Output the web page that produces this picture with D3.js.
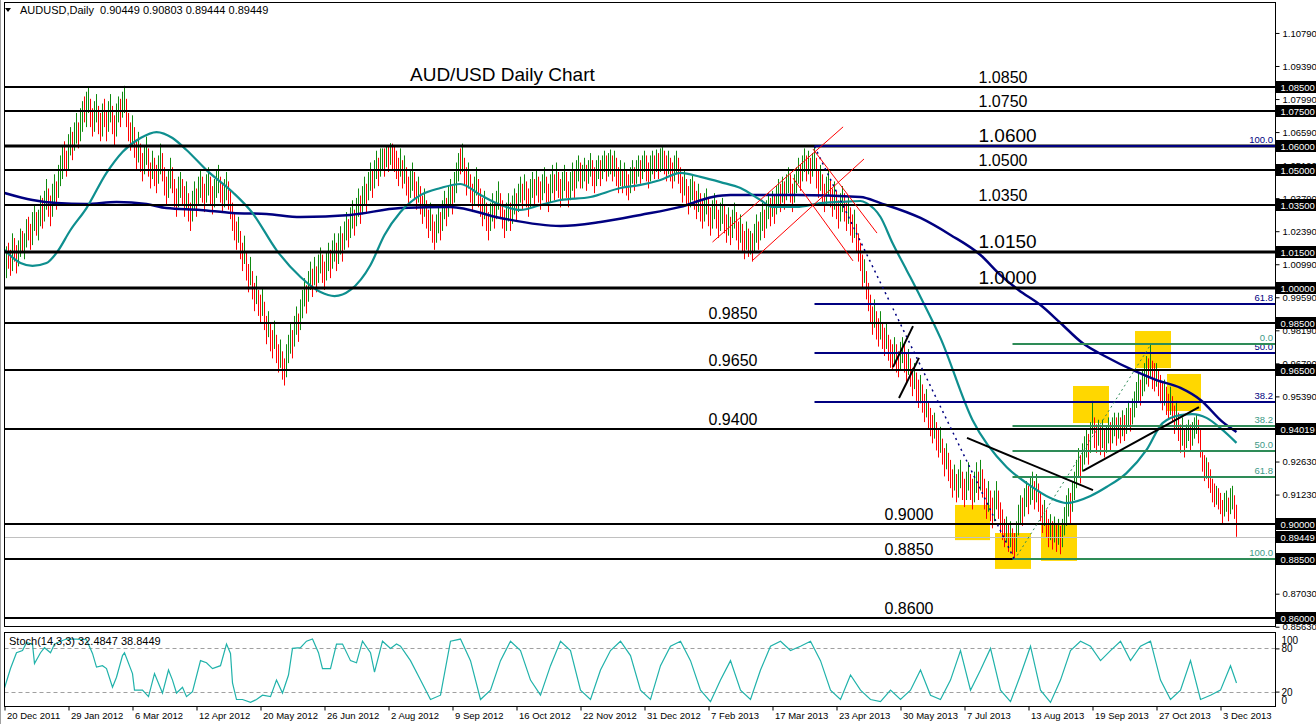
<!DOCTYPE html>
<html><head><meta charset="utf-8">
<script src="https://cdn.jsdelivr.net/npm/d3@7"></script>
<style>body{margin:0;background:#fff;overflow:hidden}svg{display:block}</style>
</head><body><svg id="c" width="1316" height="724"></svg>
<script>
// ---------------- DATA ----------------
const symbolTitle = "AUDUSD,Daily";
const headerOHLC = [0.90449, 0.90803, 0.89444, 0.89449];
const chartTitle = "AUD/USD Daily Chart";
const stochTitle = "Stoch(14,3,3)";
const stochHeader = [32.4847, 38.8449];

const dateLabels = ["20 Dec 2011","29 Jan 2012","6 Mar 2012","12 Apr 2012","20 May 2012","26 Jun 2012","2 Aug 2012","9 Sep 2012","16 Oct 2012","22 Nov 2012","31 Dec 2012","7 Feb 2013","17 Mar 2013","23 Apr 2013","30 May 2013","7 Jul 2013","13 Aug 2013","19 Sep 2013","27 Oct 2013","3 Dec 2013"];
const dateLabelBars = [0,32,64,96,128,160,192,224,256,288,320,352,384,416,448,480,512,544,576,608];

// visible grid prices on the right axis (the ones under level boxes are hidden in the reference)
const priceTicks = [1.10790,1.09390,1.07990,1.06590,1.05190,1.03790,1.02390,1.00990,0.99590,0.98190,0.96790,0.95390,0.92630,0.91230,0.87030,0.85630];
const stochTicks = [100, 80, 20, 0];

// daily bar lows / highs in 1/10000 of a dollar, and direction (g = up, r = down)
const barLow = [
9905,10040,10080,10050,10070,10110,10060,10090,10130,10150,
10120,10170,10200,10160,10180,10240,10220,10200,10260,10250,
10280,10330,10300,10260,10300,10360,10330,10380,10430,10460,
10500,10470,10500,10560,10540,10580,10610,10590,10620,10660,
10700,10680,10740,10680,10640,10660,10700,10650,10620,10640,
10680,10620,10660,10700,10650,10600,10640,10700,10680,10720,
10740,10680,10620,10580,10600,10550,10500,10530,10490,10450,
10480,10520,10470,10420,10460,10430,10400,10440,10480,10450,
10390,10350,10380,10420,10400,10340,10300,10340,10380,10350,
10300,10330,10280,10240,10280,10330,10300,10350,10380,10360,
10320,10360,10390,10350,10310,10340,10380,10400,10360,10320,
10340,10370,10330,10290,10240,10200,10160,10190,10120,10070,
10100,10030,9980,10010,9950,9900,9930,9880,9850,9880,
9820,9760,9790,9730,9700,9740,9680,9640,9660,9610,
9585,9620,9680,9720,9700,9750,9800,9770,9820,9870,
9920,9890,9940,9990,9960,10010,9980,10020,10060,10020,
9990,10030,10070,10040,10080,10110,10070,10100,10140,10110,
10160,10200,10170,10210,10250,10220,10260,10300,10270,10310,
10350,10320,10370,10410,10380,10420,10460,10430,10470,10500,
10470,10510,10490,10520,10500,10490,10460,10430,10470,10420,
10440,10390,10350,10380,10410,10370,10330,10360,10310,10270,
10300,10250,10210,10240,10190,10160,10190,10230,10200,10240,
10290,10260,10300,10340,10310,10360,10400,10450,10480,10490,
10430,10390,10420,10360,10320,10350,10390,10340,10300,10260,
10290,10240,10200,10240,10280,10250,10290,10330,10290,10250,
10210,10240,10280,10240,10270,10310,10280,10320,10360,10330,
10370,10340,10300,10340,10380,10350,10390,10360,10330,10370,
10400,10360,10320,10360,10400,10370,10410,10380,10340,10370,
10410,10380,10340,10370,10410,10380,10420,10450,10420,10420,
10450,10410,10440,10470,10430,10400,10430,10460,10430,10460,
10490,10450,10470,10480,10450,10470,10430,10400,10430,10400,
10430,10390,10370,10400,10440,10410,10440,10470,10440,10460,
10490,10450,10420,10450,10480,10460,10490,10460,10490,10500,
10480,10450,10480,10450,10420,10450,10480,10440,10400,10360,
10390,10350,10310,10340,10370,10330,10290,10320,10280,10250,
10280,10310,10260,10220,10250,10290,10250,10210,10240,10270,
10230,10190,10220,10180,10210,10250,10200,10160,10190,10150,
10120,10160,10130,10140,10110,10150,10190,10160,10200,10240,
10210,10250,10290,10260,10300,10270,10310,10350,10320,10360,
10330,10370,10400,10360,10320,10360,10400,10440,10410,10450,
10490,10450,10480,10440,10470,10500,10420,10380,10410,10360,
10320,10350,10390,10340,10300,10330,10290,10250,10280,10320,
10280,10240,10270,10220,10190,10210,10150,10110,10070,10000,
10020,9950,9900,9850,9800,9830,9780,9750,9780,9740,
9710,9740,9690,9660,9650,9680,9640,9620,9650,9680,
9640,9600,9630,9580,9540,9570,9520,9490,9510,9470,
9430,9450,9400,9370,9340,9360,9310,9280,9300,9250,
9200,9230,9180,9150,9110,9140,9090,9110,9150,9100,
9070,9100,9140,9100,9060,9090,9130,9100,9140,9110,
9060,9020,9050,9010,8980,9010,9060,9020,8960,8930,
8900,8920,8880,8900,8870,8847,8880,8950,9000,8990,
9030,9070,9040,9080,9100,9060,9090,9050,9010,8960,
8990,8940,8900,8930,8890,8920,8880,8910,8870,8900,
8950,8990,9030,9000,9050,9100,9150,9200,9170,9220,
9250,9280,9250,9300,9380,9320,9300,9330,9290,9320,
9280,9300,9340,9310,9340,9370,9330,9360,9340,9370,
9350,9380,9410,9390,9420,9450,9490,9520,9500,9540,
9560,9590,9580,9620,9570,9560,9580,9540,9510,9480,
9500,9460,9440,9460,9430,9380,9400,9350,9300,9330,
9280,9320,9350,9310,9330,9360,9380,9340,9280,9220,
9180,9190,9150,9130,9090,9070,9080,9060,9040,9000,
9030,9050,9010,9040,9060,9020,8944];
const barHigh = [
10087,10175,10190,10160,10230,10210,10180,10200,10250,10240,
10230,10290,10300,10270,10320,10350,10320,10330,10390,10380,
10410,10460,10420,10390,10440,10480,10450,10520,10560,10600,
10620,10580,10650,10680,10660,10700,10740,10700,10760,10790,
10810,10830,10850,10800,10760,10790,10820,10770,10740,10780,
10800,10750,10790,10820,10770,10730,10780,10810,10800,10830,
10855,10800,10740,10700,10730,10680,10620,10660,10610,10570,
10600,10640,10590,10530,10580,10550,10520,10560,10610,10570,
10510,10470,10500,10550,10510,10460,10420,10470,10490,10460,
10430,10450,10400,10360,10410,10450,10420,10470,10500,10470,
10440,10480,10510,10470,10430,10460,10500,10520,10470,10440,
10460,10490,10450,10410,10360,10320,10280,10300,10240,10190,
10220,10150,10100,10130,10070,10020,10050,9990,9970,10000,
9940,9880,9900,9850,9820,9860,9800,9760,9780,9730,
9700,9760,9800,9850,9820,9880,9920,9890,9950,9990,
10040,10010,10070,10110,10080,10130,10090,10140,10170,10140,
10110,10150,10190,10160,10200,10230,10190,10230,10260,10230,
10280,10320,10290,10340,10370,10330,10380,10420,10390,10430,
10470,10440,10490,10530,10500,10540,10580,10550,10590,10590,
10590,10600,10600,10612,10610,10600,10580,10550,10590,10540,
10560,10510,10470,10500,10530,10490,10450,10470,10430,10390,
10420,10370,10330,10360,10310,10280,10310,10350,10320,10370,
10410,10380,10430,10460,10430,10490,10530,10570,10590,10610,
10550,10510,10530,10480,10440,10470,10510,10460,10420,10380,
10410,10360,10320,10360,10400,10360,10410,10450,10400,10370,
10330,10360,10400,10360,10390,10420,10400,10440,10470,10440,
10480,10450,10420,10460,10490,10460,10500,10470,10450,10480,
10510,10470,10440,10480,10520,10480,10530,10490,10460,10490,
10520,10490,10450,10490,10530,10500,10540,10560,10530,10520,
10550,10520,10540,10570,10540,10510,10540,10560,10540,10560,
10580,10560,10570,10585,10560,10580,10550,10510,10540,10500,
10530,10500,10480,10510,10540,10510,10540,10560,10540,10560,
10580,10560,10530,10560,10580,10560,10585,10570,10590,10595,
10580,10560,10580,10550,10530,10560,10580,10550,10510,10470,
10500,10460,10430,10460,10480,10450,10410,10440,10400,10370,
10400,10420,10380,10340,10370,10400,10370,10330,10360,10380,
10350,10310,10340,10300,10330,10360,10320,10280,10310,10270,
10240,10280,10250,10240,10230,10270,10310,10280,10320,10360,
10330,10370,10400,10380,10410,10390,10430,10460,10440,10470,
10450,10480,10510,10480,10440,10480,10510,10550,10520,10560,
10590,10560,10580,10550,10570,10598,10550,10500,10520,10480,
10440,10470,10500,10460,10420,10450,10410,10370,10400,10430,
10400,10360,10390,10340,10310,10330,10270,10230,10190,10140,
10120,10070,10020,9970,9920,9950,9900,9870,9900,9850,
9830,9850,9800,9780,9760,9790,9760,9730,9770,9790,
9760,9720,9740,9700,9660,9680,9640,9610,9630,9590,
9550,9570,9520,9490,9460,9470,9430,9400,9410,9360,
9320,9340,9300,9270,9230,9250,9210,9230,9270,9220,
9190,9220,9260,9210,9190,9220,9260,9220,9270,9230,
9190,9150,9180,9140,9110,9140,9180,9140,9090,9060,
9020,9030,9000,9010,8980,8960,9010,9080,9120,9110,
9150,9180,9160,9200,9220,9180,9210,9170,9130,9080,
9100,9060,9020,9040,9010,9030,9000,9020,8990,9020,
9070,9120,9150,9130,9180,9220,9270,9320,9290,9340,
9370,9400,9380,9430,9520,9450,9420,9440,9410,9440,
9400,9410,9450,9430,9450,9470,9450,9470,9450,9480,
9460,9490,9520,9490,9530,9560,9600,9640,9610,9650,
9680,9710,9700,9757,9690,9680,9680,9650,9630,9600,
9610,9580,9550,9580,9540,9500,9520,9470,9420,9450,
9400,9420,9440,9420,9430,9450,9460,9440,9400,9310,
9290,9280,9260,9230,9190,9170,9160,9150,9130,9100,
9130,9140,9110,9150,9160,9120,9080];
const barDir =
"ggrrgrrggr"+"ggrrggrggr"+"ggrrggrggg"+"rrggrggrgg"+"rggrrggrrg"+"rrggrrggrg"+"grrrgrrgrr"+"ggrrgrrggr"+
"rrggrrrggr"+"rgrrggrggr"+"rggrrgggrr"+"ggrrrrrgrr"+"grrgrrgrrg"+"rrgrrgrrgr"+"rgggrggrgg"+"grggrgrggr"+
"rggrggrggr"+"ggrggrggrg"+"grggrggrgg"+"rgrgrrrrgr"+"grrggrrgrr"+"grrgrrggrg"+"grggrgggrg"+"rrgrrggrrr"+
"grrggrggrr"+"rggrggrggr"+"grrggrgrrg"+"grrggrgrrg"+"grrggrggrg"+"grggrrggrg"+"grggrgrrgr"+"grrggrggrg"+
"grrggrgrgg"+"rrgrrggrrr"+"grrggrrgrr"+"ggrrggrrgg"+"rrgrggrrgr"+"rgrgrggrgg"+"rggrgrggrg"+"rggrrgggrg"+
"grgrggrrgr"+"rggrrgrrgg"+"rrgrrgrrrr"+"grrrrgrrgr"+"rgrrrgrrgg"+"rrgrrgrrgr"+"rgrrrgrrgr"+"rgrrrgrggr"+
"rggrrggrgr"+"rrgrrggrrr"+"rgrgrrgggr"+"ggrggrgrrr"+"grrgrgrgrg"+"gggrggggrg"+"ggrggrrgrg"+"rggrggrgrg"+
"rggrggggrg"+"ggrgrrgrrr"+"grrgrrgrrg"+"rggrgggrrr"+"rgrrrrgrrr"+"ggrggrr";

// moving averages: [bar index, price]
const maFast = [[0,1.0159],[8,1.0104],[14,1.0092],[21,1.0104],[26,1.0147],[33,1.0244],[41,1.0337],[51,1.0486],[59,1.0575],[68,1.0634],[76,1.0659],[84,1.0634],[91,1.0583],[101,1.0498],[114,1.0405],[124,1.0316],[136,1.0159],[148,1.0045],[158,0.9981],[165,0.9964],[173,0.9990],[183,1.0096],[190,1.0223],[198,1.0320],[208,1.0392],[218,1.0422],[228,1.0439],[238,1.0392],[248,1.0350],[258,1.0329],[268,1.0350],[278,1.0371],[293,1.0384],[308,1.0422],[318,1.0435],[328,1.0456],[338,1.0486],[348,1.0469],[358,1.0447],[368,1.0422],[378,1.0371],[384,1.0342],[396,1.0342],[408,1.0358],[418,1.0363],[428,1.0367],[431,1.0358],[438,1.0299],[444,1.0189],[451,1.0075],[458,0.9960],[468,0.9786],[484,0.9439],[501,0.9240],[511,0.9172],[523,0.9108],[531,0.9087],[543,0.9117],[551,0.9155],[561,0.9214],[571,0.9312],[579,0.9426],[588,0.9460],[594,0.9464],[601,0.9448],[609,0.9397],[616,0.9342]];
const maSlow = [[0,1.0401],[14,1.0371],[26,1.0358],[41,1.0354],[56,1.0363],[71,1.0354],[81,1.0337],[98,1.0329],[114,1.0316],[131,1.0312],[148,1.0299],[173,1.0308],[198,1.0337],[223,1.0342],[248,1.0295],[278,1.0261],[298,1.0278],[318,1.0308],[338,1.0342],[354,1.0384],[363,1.0392],[396,1.0392],[428,1.0384],[438,1.0358],[458,1.0295],[473,1.0223],[488,1.0138],[498,1.0053],[507,0.9990],[518,0.9926],[528,0.9850],[539,0.9765],[551,0.9706],[564,0.9651],[576,0.9608],[588,0.9575],[598,0.9524],[609,0.9431],[616,0.9388]];

// stochastic main line: [bar index, value]
const stochMain = [[0,25],[3,52],[6,74],[9,77],[11,88],[14,86],[15,59],[18,74],[20,81],[23,74],[25,86],[28,90],[31,93],[36,93],[41,92],[44,73],[46,54],[49,56],[51,52],[54,26],[56,40],[59,70],[60,74],[64,45],[65,22],[69,22],[72,13],[75,45],[79,18],[82,50],[84,36],[86,18],[89,26],[91,13],[94,20],[98,63],[101,60],[104,52],[108,56],[111,86],[113,73],[114,32],[116,9],[119,9],[123,5],[126,9],[129,15],[133,13],[136,36],[139,18],[142,43],[144,80],[148,81],[151,90],[154,93],[157,74],[159,52],[163,52],[166,86],[169,86],[173,63],[176,60],[179,90],[183,74],[185,47],[189,90],[193,80],[196,86],
[198,83],[203,63],[208,36],[213,9],[218,15],[223,90],[228,93],[233,63],[238,9],[243,22],[248,63],[253,90],[258,77],[263,36],[268,15],[273,56],[278,90],[283,77],[288,22],[293,9],[298,50],[303,77],[308,90],[313,70],[318,22],[323,9],[328,56],[333,83],[338,90],[343,63],[348,22],[353,6],[358,36],[363,63],[368,22],[373,9],[378,50],[383,83],[388,90],[393,77],[398,83],[403,90],[408,63],[413,22],[418,9],[423,43],[428,22],[433,9],[438,6],[443,22],[448,9],[453,22],[458,50],[463,15],[468,9],[473,36],[478,77],[483,22],[488,50],[493,80],[498,22],[503,6],[508,43],[513,83],[518,22],[523,5],[528,36],[533,77],[538,90],[543,83],[548,63],[553,77],[558,90],[563,63],[568,83],[573,90],[578,36],[583,9],[588,22],[593,63],[598,9],[603,15],[608,22],[613,56],[616,32]];
const stochLevels = [80, 20];

// horizontal support / resistance levels
const levelValues = [1.085,1.075,1.06,1.05,1.035,1.015,1.0,0.985,0.965,0.94019,0.90,0.885,0.86];
const levelNames  = ["1.0850","1.0750","1.0600","1.0500","1.0350","1.0150","1.0000","0.9850","0.9650","0.9400","0.9000","0.8850","0.8600"];
const levelNameBar = [487,487,487,487,487,487,487,352,352,352,440,440,440];
const levelMajor = [false,false,true,false,false,true,true,false,false,false,false,false,false];
const currentPrice = 0.89449;

// Fibonacci retracements (the navy 0 level coincides with the 0.8850 line and is not visible)
const fibNavy = {high:1.0598, low:0.8847, fromBar:405, levels:[100,61.8,50,38.2]};
const fibGreen = {high:0.9760, low:0.8852, fromBar:504, levels:[0,38.2,50,61.8,100]};

// highlighted boxes: [bar from, bar to, price top, price bottom]
const boxes = [[475.25,492.75,0.9079,0.8930],[495.25,513.25,0.8960,0.8808],[518.25,536.25,0.8994,0.8842],[534.25,552.25,0.9583,0.9426],[565.25,583.25,0.9816,0.9659],[581.25,598.25,0.9634,0.9477]];
// drawn lines: [[bar, price],[bar, price]]
const redLines = [[[354,1.0193],[419.3,1.0681]],[[373.75,1.0113],[429.75,1.0545]],[[404.25,1.0587],[436.25,1.0231]],[[394.25,1.0464],[424.25,1.0113]]];
const blackLines = [[[444.25,0.9663],[454.25,0.9837]],[[447.25,0.9532],[457.25,0.9702]],[[481.25,0.9363],[544.25,0.9142]],[[539.25,0.9223],[597.25,0.9494]]];
const navyDotted = [[405,1.0598],[505,0.8847]];
const greenDashed = [[505,0.8847],[573,0.9757]];

// ---------------- DRAW ----------------
const FF = "'Liberation Sans', Arial, sans-serif";
const FN = "'Liberation Sans Narrow', 'Liberation Sans', Arial, sans-serif";
const svg = d3.select("#c");
const nBars = Math.min(barLow.length, barHigh.length);
const x = d3.scaleLinear().domain([0, 616]).range([4.5, 1236.5]);
const y = d3.scaleLinear().domain([0.86, 1.085]).range([618, 87]);
const ys = d3.scaleLinear().domain([0, 100]).range([706, 634]);
const L = 4.5, R = 1275.5, T = 2.5, B = 626.5, ST = 632.5, SB = 706.5;
const NAVY = "#000080", TEAL = "#0e8f8f", GREEN = "#2e8b57";

svg.append("rect").attr("width",1316).attr("height",724).attr("fill","#fff");
const defs = svg.append("defs");
defs.append("clipPath").attr("id","cm").append("rect").attr("x",5).attr("y",3).attr("width",1270).attr("height",623);
defs.append("clipPath").attr("id","cs").append("rect").attr("x",5).attr("y",633).attr("width",1270).attr("height",73);

const main = svg.append("g").attr("clip-path","url(#cm)");

// boxes
main.selectAll("rect.box").data(boxes).join("rect").attr("class","box")
  .attr("x", d=>x(d[0])).attr("width", d=>x(d[1])-x(d[0]))
  .attr("y", d=>y(d[2])).attr("height", d=>y(d[3])-y(d[2]))
  .attr("fill","#ffd700");

// bars
main.selectAll("line.bar").data(d3.range(nBars)).join("line").attr("class","bar")
  .attr("x1", i=>x(i)).attr("x2", i=>x(i))
  .attr("y1", i=>y(barHigh[i]/10000)).attr("y2", i=>y(barLow[i]/10000))
  .attr("stroke", i=>barDir[i]==="g" ? "#108a10" : "#ff0000").attr("stroke-width",1);

// moving averages
const lineGen = d3.line().x(d=>x(d[0])).y(d=>y(d[1])).curve(d3.curveMonotoneX);
main.append("path").datum(maSlow).attr("d",lineGen).attr("fill","none").attr("stroke",NAVY).attr("stroke-width",2.5);
main.append("path").datum(maFast).attr("d",lineGen).attr("fill","none").attr("stroke",TEAL).attr("stroke-width",2.2);

// current price line
main.append("line").attr("x1",L).attr("x2",R).attr("y1",Math.round(y(currentPrice))+0.5).attr("y2",Math.round(y(currentPrice))+0.5)
  .attr("stroke","#c0c0c0").attr("stroke-width",1);

// level lines
main.selectAll("line.lvl").data(levelValues).join("line").attr("class","lvl")
  .attr("x1",L).attr("x2",R).attr("y1",d=>Math.round(y(d))).attr("y2",d=>Math.round(y(d)))
  .attr("stroke","#000").attr("stroke-width",(d,i)=>levelMajor[i]?3:2);

// fib lines
function fibVal(f, p, invert){ return invert ? f.high - p/100*(f.high-f.low) : f.low + p/100*(f.high-f.low); }
[[fibNavy,false,NAVY,NAVY],[fibGreen,true,GREEN,"#3c9a86"]].forEach(([f,inv,col,tcol])=>{
  f.levels.forEach(p=>{
    const yy = Math.round(y(fibVal(f,p,inv)));
    main.append("line").attr("x1",x(f.fromBar)).attr("x2",R).attr("y1",yy).attr("y2",yy).attr("stroke",col).attr("stroke-width",2);
    main.append("text").attr("x",1273).attr("y",yy-3).attr("text-anchor","end").attr("font-family",FF).attr("font-size",9.5)
      .attr("fill",tcol).text(p.toFixed(1));
  });
});

// dotted/dashed fib trend lines
const seg = d3.line().x(d=>x(d[0])).y(d=>y(d[1]));
main.append("path").datum(navyDotted).attr("d",seg).attr("stroke",NAVY).attr("stroke-width",1.5).attr("stroke-dasharray","2,4").attr("fill","none");
main.append("path").datum(greenDashed).attr("d",seg).attr("stroke",GREEN).attr("stroke-width",1).attr("stroke-dasharray","2,3").attr("fill","none");

// red and black trend lines
main.selectAll("path.red").data(redLines).join("path").attr("class","red").attr("d",seg).attr("stroke","#ff0000").attr("stroke-width",1).attr("fill","none");
main.selectAll("path.blk").data(blackLines).join("path").attr("class","blk").attr("d",seg).attr("stroke","#000").attr("stroke-width",2).attr("fill","none");

// level captions
main.selectAll("text.lvlname").data(levelValues).join("text").attr("class","lvlname")
  .attr("x",(d,i)=>x(levelNameBar[i])).attr("y",d=>Math.round(y(d))-4)
  .attr("font-family",FF).attr("font-size",(d,i)=>levelMajor[i]?19:16).attr("fill","#000")
  .text((d,i)=>levelNames[i]);
main.append("text").attr("x",410).attr("y",81).attr("font-family",FF).attr("font-size",19).attr("fill","#000").text(chartTitle);

// header
svg.append("path").attr("d","M5,8 L11,8 L8,12 Z").attr("fill","#000");
svg.append("text").attr("x",20).attr("y",14).attr("font-family",FF).attr("font-size",11).attr("fill","#000")
  .attr("xml:space","preserve").text(symbolTitle + "  " + headerOHLC.map(v=>v.toFixed(5)).join(" "));

// stochastic panel
const sp = svg.append("g").attr("clip-path","url(#cs)");
sp.selectAll("line.sl").data(stochLevels).join("line").attr("class","sl")
  .attr("x1",L).attr("x2",R).attr("y1",d=>Math.round(ys(d))+0.5).attr("y2",d=>Math.round(ys(d))+0.5)
  .attr("stroke","#a0a0a0").attr("stroke-dasharray","4,3").attr("stroke-width",1);
sp.append("path").datum(stochMain).attr("d",d3.line().x(d=>x(d[0])).y(d=>ys(d[1]))).attr("fill","none").attr("stroke","#20b2aa").attr("stroke-width",1.2);
svg.append("text").attr("x",9).attr("y",645).attr("font-family",FF).attr("font-size",11).attr("fill","#000")
  .text(stochTitle + " " + stochHeader.map(v=>v.toFixed(4)).join(" "));

// frames
svg.append("line").attr("x1",0.5).attr("x2",0.5).attr("y1",0).attr("y2",724).attr("stroke","#a0a0a0").attr("stroke-width",1);
svg.append("rect").attr("x",L).attr("y",T).attr("width",R-L).attr("height",B-T).attr("fill","none").attr("stroke","#000").attr("stroke-width",1);
svg.append("rect").attr("x",L).attr("y",ST).attr("width",R-L).attr("height",SB-ST).attr("fill","none").attr("stroke","#000").attr("stroke-width",1);

// right price axis
const ay = svg.append("g").attr("transform",`translate(${R},0)`)
  .call(d3.axisRight(y).tickValues(priceTicks).tickSize(4).tickPadding(3).tickFormat(d=>d.toFixed(5)));
ay.select(".domain").remove();
ay.selectAll("text").attr("font-family",FN).attr("font-size",9.5).attr("fill","#000");
ay.selectAll("line").attr("stroke","#000");

// boxed level values on axis
const boxed = levelValues.concat([currentPrice]);
const bx = svg.append("g");
boxed.forEach(v=>{
  const yy = Math.round(y(v));
  bx.append("rect").attr("x",R+0.5).attr("y",yy-6).attr("width",40).attr("height",12).attr("fill","#000");
  bx.append("text").attr("x",R+5).attr("y",yy+4).attr("font-family",FN).attr("font-size",9.5).attr("fill","#fff").text(v.toFixed(5));
});

// stochastic axis
const stochLabelShift = {100: 9, 80: 3.5, 20: 3.5, 0: -3};
const as = svg.append("g").attr("transform",`translate(${R},0)`)
  .call(d3.axisRight(ys).tickValues(stochTicks).tickSize(4).tickPadding(2).tickFormat(d=>String(d)));
as.select(".domain").remove();
as.selectAll(".tick").filter(d=>d===100||d===0).select("line").remove();
as.selectAll(".tick text").attr("dy",null).attr("y",d=>stochLabelShift[d])
  .attr("font-family",FF).attr("font-size",10).attr("fill","#000");

// time axis
const ax = svg.append("g").attr("transform",`translate(0,${SB})`)
  .call(d3.axisBottom(x).tickValues(dateLabelBars).tickSize(4).tickPadding(2).tickFormat((d,i)=>dateLabels[i]));
ax.select(".domain").remove();
ax.selectAll("text").attr("text-anchor","start").attr("dx",2).attr("font-family",FF).attr("font-size",9.5).attr("fill","#000");
ax.selectAll("line").attr("stroke","#000");
</script>
</body></html>
